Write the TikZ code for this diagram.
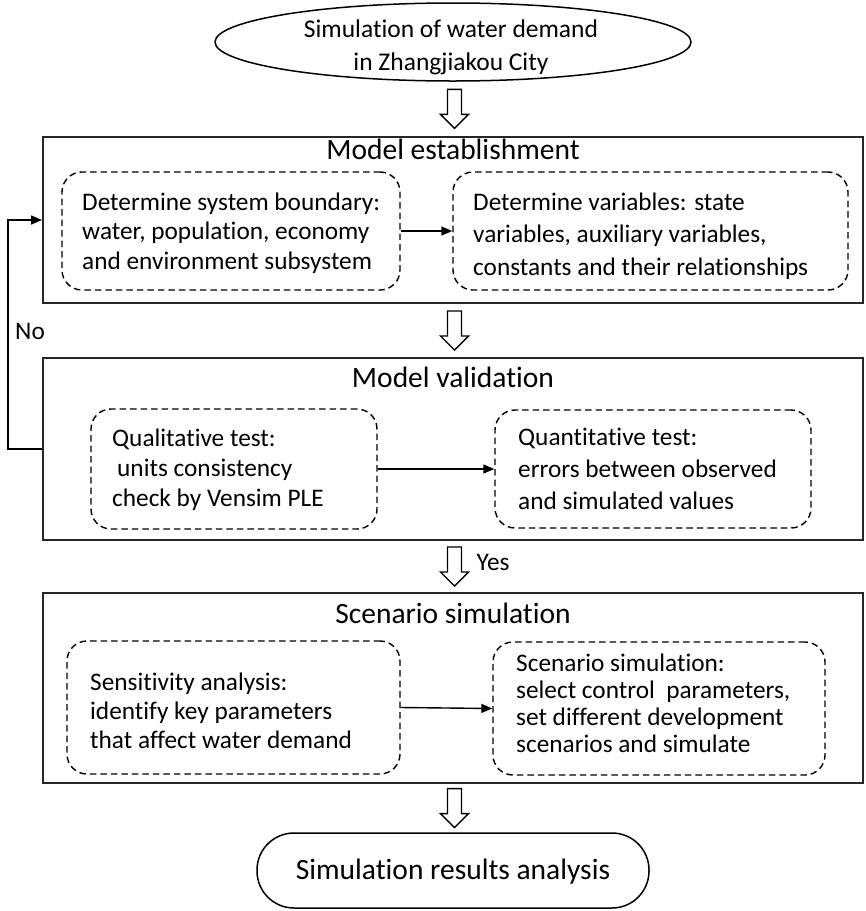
\documentclass[tikz,border=0pt]{standalone}
\usepackage{fontspec}
\setmainfont{Carlito}[Ligatures=NoCommon]
\newcommand\nti{t\kern0pt i}
\usetikzlibrary{arrows.meta,shapes.geometric,calc}
\begin{document}
\begin{tikzpicture}[x=1pt,y=-1pt,
  outer/.style={draw, line width=1.9pt, draw=black!85, minimum width=820pt, inner sep=0pt},
  dbox/.style={draw, dash pattern=on 6.5pt off 4pt, rounded corners=20pt, line width=1.4pt, inner sep=0pt},
  body/.style={font=\fontsize{25.3}{30}\selectfont, align=left, anchor=west, inner sep=0pt},
  ttl/.style={font=\fontsize{29.5}{34}\selectfont, inner sep=0pt},
  conn/.style={-{Triangle[length=11pt,width=9pt]}, line width=1.4pt},
  hollow/.pic={\draw[line width=1.4pt, fill=white] (-7,-19.5) -- (7,-19.5) -- (7,5.5) -- (14,5.5) -- (0,19.5) -- (-14,5.5) -- (-7,5.5) -- cycle;}
]
\useasboundingbox (0,0) rectangle (866,911);

% start ellipse
\node[ellipse, draw, line width=1.5pt, minimum width=476pt, minimum height=78pt, inner sep=0pt] (top) at (453,42) {};
\node[font=\fontsize{25.5}{33}\selectfont, align=center, inner sep=0pt] (toptext) at (451,47) {Simula\nti{}on of water demand\\in Zhangjiakou City};

% outer boxes
\node[outer, minimum height=166pt] (box1) at (453,220) {};
\node[ttl] (t1) at (453,149) {Model establishment};
\node[outer, minimum height=182pt] (box2) at (453,449) {};
\node[ttl] (t2) at (453,377) {Model valida\nti{}on};
\node[outer, minimum height=190pt] (box3) at (453,688) {};
\node[ttl] (t3) at (453,613) {Scenario simula\nti{}on};

% bottom terminal
\node[draw, line width=1.5pt, rounded corners=37pt, minimum width=392pt, minimum height=75pt, inner sep=0pt] (end) at (453,870.5) {};
\node[ttl] (endtext) at (453,872) {Simula\nti{}on results analysis};

% dashed boxes
\node[dbox, minimum width=338pt, minimum height=118pt] (b1a) at (231,231) {};
\node[dbox, minimum width=395pt, minimum height=118pt] (b1b) at (650.5,231) {};
\node[dbox, minimum width=286pt, minimum height=120pt] (b2a) at (234,469) {};
\node[dbox, minimum width=316pt, minimum height=118pt] (b2b) at (653,469) {};
\node[dbox, minimum width=333pt, minimum height=133pt] (b3a) at (233.5,707.5) {};
\node[dbox, minimum width=332pt, minimum height=133pt] (b3b) at (659,708.5) {};

% texts
\node[body, font=\fontsize{25.3}{29.5}\selectfont] (x1a) at (82,233) {Determine system boundary:\\water, population, economy\\and environment subsystem};
\node[body, font=\fontsize{25.3}{32.5}\selectfont] (x1b) at (473,236) {Determine variables: state\\variables, auxiliary variables,\\constants and their rela\nti{}onships};
\node[body, font=\fontsize{25.3}{30}\selectfont] (x2a) at (112,470) {Qualita\nti{}ve test:\\\hspace*{5pt}units consistency\\check by Vensim PLE};
\node[body, font=\fontsize{25.3}{32}\selectfont] (x2b) at (518,469) {Quan\nti{}ta\nti{}ve test:\\errors between observed\\and simulated values};
\node[body, font=\fontsize{25.3}{29}\selectfont] (x3a) at (90,711) {Sensi\nti{}vity analysis:\\iden\nti{}fy key parameters\\that affect water demand};
\node[body, font=\fontsize{25.3}{27}\selectfont] (x3b) at (516,703) {Scenario simula\nti{}on:\\select control\ \ parameters,\\set different development\\scenarios and simulate};

% connectors
\draw[conn] (b1a.east) -- (b1b.west);
\draw[conn] (b2a.east) -- (b2b.west);
\draw[conn] (b3a.east) -- (b3b.west);
\coordinate (fb) at (8,449);
\draw[conn] (box2.west) -- (fb) |- (box1.west);
\node[font=\fontsize{25.3}{30}\selectfont, inner sep=0pt] (no) at (30,331) {No};
\node[font=\fontsize{25.3}{30}\selectfont, inner sep=0pt] (yes) at (493,562) {Yes};

% hollow arrows
\pic at ($(top.south)!0.5!(box1.north)+(1.5,0)$) {hollow};
\pic at ($(box1.south)!0.5!(box2.north)+(1.5,0)$) {hollow};
\pic at ($(box2.south)!0.5!(box3.north)+(1.5,0)$) {hollow};
\pic at ($(box3.south)!0.5!(end.north)+(1.5,0)$) {hollow};
\end{tikzpicture}
\end{document}
